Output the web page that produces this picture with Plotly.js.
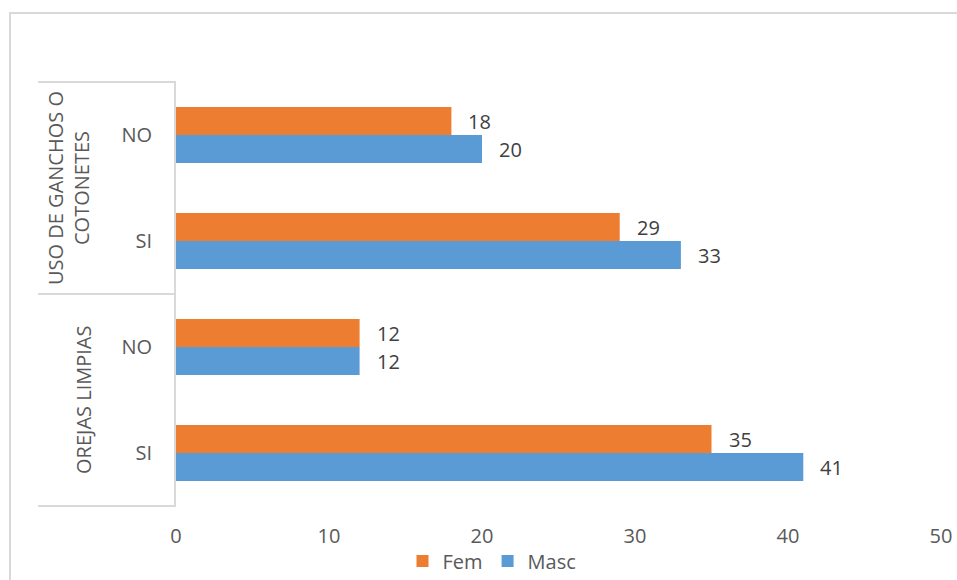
<!DOCTYPE html>
<html>
<head>
<meta charset="utf-8">
<script src="https://cdn.plot.ly/plotly-3.0.1.min.js"></script>
<style>
html,body{margin:0;padding:0;background:#fff;overflow:hidden;}
#wrap{position:relative;width:957px;height:580px;}
#chart{position:absolute;left:0;top:0;width:957px;height:580px;}
#frame{position:absolute;left:9px;top:12px;width:1000px;height:1000px;border-left:2px solid #d9d9d9;border-top:2px solid #d9d9d9;pointer-events:none;}
</style>
</head>
<body>
<div id="wrap"><div id="chart"></div><div id="frame"></div></div>
<script>
// Data
var categoryKeys = ["USO-NO", "USO-SI", "OREJAS-NO", "OREJAS-SI"];
var categoryLabels = ["NO", "SI", "NO", "SI"];
var groupLabels = ["USO DE GANCHOS O<br>COTONETES", "OREJAS LIMPIAS"];
var femValues = [18, 29, 12, 35];
var mascValues = [20, 33, 12, 41];
var seriesNames = ["Fem", "Masc"];
var xTicks = [0, 10, 20, 30, 40, 50];

var FONT = "Open Sans, Lato, sans-serif";
var GRAY = "#595959";

var traces = [
  {type: "bar", orientation: "h", name: seriesNames[0], y: categoryKeys, x: femValues,
   marker: {color: "#ed7d31"}, hoverinfo: "x+name"},
  {type: "bar", orientation: "h", name: seriesNames[1], y: categoryKeys, x: mascValues,
   marker: {color: "#5b9bd5"}, hoverinfo: "x+name"}
];

var L = 176, R = 941, T = 82, B = 506, W = 957, H = 580;
function px2x(p){ return (p - L) / (R - L); }
function py2y(p){ return (B - p) / (B - T); }

var annotations = [
  {text: groupLabels[0], xref: "paper", yref: "paper", x: px2x(68), y: 0.75, textangle: -90,
   showarrow: false, xanchor: "center", yanchor: "middle", align: "center",
   font: {family: FONT, size: 20, color: GRAY}},
  {text: groupLabels[1], xref: "paper", yref: "paper", x: px2x(83), y: 0.25, textangle: -90,
   showarrow: false, xanchor: "center", yanchor: "middle", align: "center",
   font: {family: FONT, size: 20, color: GRAY}}
];
// value labels, positioned by data through the axes
var barHalf = 14;
[femValues, mascValues].forEach(function(vals, s){
  vals.forEach(function(v, i){
    annotations.push({text: String(v), x: v, y: categoryKeys[i], xref: "x", yref: "y",
      showarrow: false, xanchor: "left", yanchor: "middle", xshift: 15,
      yshift: s === 0 ? barHalf : -barHalf,
      font: {family: FONT, size: 20, color: "#404040"}});
  });
});

var layout = {
  width: W, height: H,
  margin: {l: L, r: W - R, t: T, b: H - B, pad: 0, autoexpand: false},
  paper_bgcolor: "#ffffff", plot_bgcolor: "#ffffff",
  font: {family: FONT, color: GRAY, size: 20},
  barmode: "group", bargap: 0.47, bargroupgap: 0,
  showlegend: true,
  legend: {orientation: "h", x: px2x(492), xanchor: "center", y: py2y(561), yanchor: "middle",
           font: {family: FONT, size: 20, color: GRAY}, traceorder: "normal",
           bgcolor: "rgba(0,0,0,0)", itemwidth: 30, tracegroupgap: 0},
  xaxis: {range: [0, 50], tickmode: "array", tickvals: xTicks, ticktext: xTicks.map(String),
          showgrid: false, zeroline: false, showline: false, ticks: "",
          ticklabelstandoff: 16, tickfont: {family: FONT, size: 20, color: GRAY},
          fixedrange: true, automargin: false},
  yaxis: {type: "category", categoryorder: "array", categoryarray: categoryKeys,
          autorange: "reversed", tickmode: "array", tickvals: categoryKeys, ticktext: categoryLabels,
          showgrid: false, zeroline: false, showline: true, linecolor: "#d9d9d9", linewidth: 2,
          ticks: "", ticklabelstandoff: 18, tickfont: {family: FONT, size: 20, color: GRAY},
          fixedrange: true, automargin: false},
  shapes: [
    {type: "line", xref: "paper", yref: "paper", x0: px2x(38), x1: 0, y0: 1, y1: 1, line: {color: "#d9d9d9", width: 2}},
    {type: "line", xref: "paper", yref: "paper", x0: px2x(38), x1: 0, y0: 0.5, y1: 0.5, line: {color: "#d9d9d9", width: 2}},
    {type: "line", xref: "paper", yref: "paper", x0: px2x(38), x1: 0, y0: 0, y1: 0, line: {color: "#d9d9d9", width: 2}}
  ],
  annotations: annotations
};

Plotly.newPlot("chart", traces, layout, {displayModeBar: false, staticPlot: true});
</script>
</body>
</html>
